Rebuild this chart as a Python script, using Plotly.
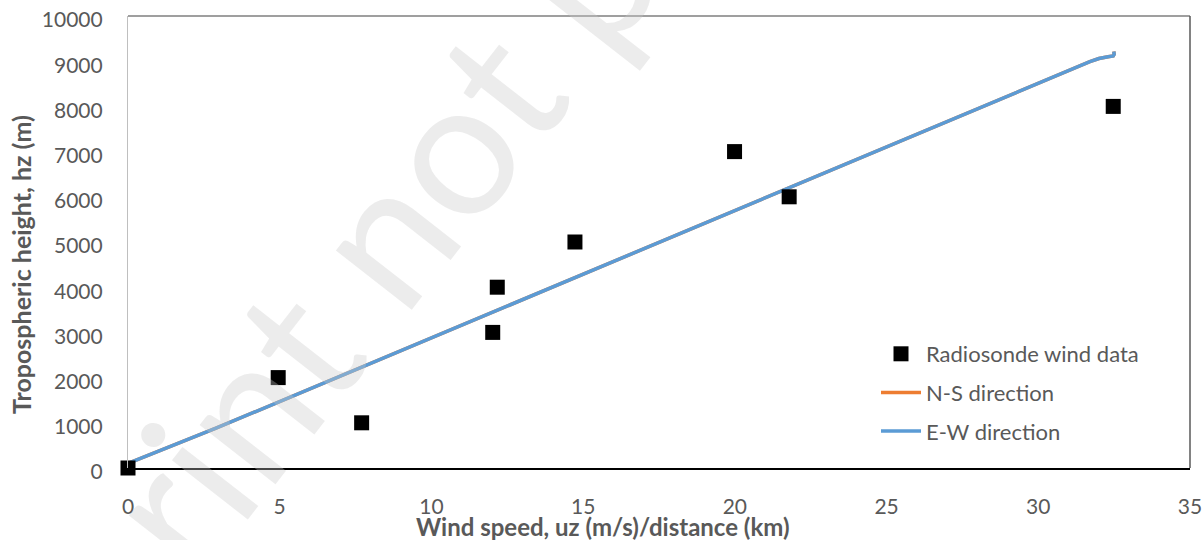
import plotly.graph_objects as go

# ---- data ----
radio_x = [0, 4.95, 7.70, 12.02, 12.17, 14.73, 19.99, 21.79, 32.47]
radio_y = [0, 2000, 1000, 3000, 4000, 5000, 7000, 6000, 8000]

ns_x = [0, 2.9, 31.7, 32.0, 32.3, 32.47, 32.5, 32.49]
ns_y = [100, 880, 8990, 9060, 9100, 9117, 9150, 9215]

ew_x = [0, 2.9, 31.7, 32.0, 32.3, 32.47, 32.5, 32.49]
ew_y = [100, 880, 8990, 9060, 9100, 9117, 9150, 9215]

x_ticks = [0, 5, 10, 15, 20, 25, 30, 35]
x_tick_labels = ["0", "5", "10", "15", "20", "25", "30", "35"]
y_ticks = [0, 1000, 2000, 3000, 4000, 5000, 6000, 7000, 8000, 9000, 10000]
y_tick_labels = ["0", "1000", "2000", "3000", "4000", "5000", "6000", "7000",
                 "8000", "9000", "10000"]

x_title = "Wind speed, uz (m/s)/distance (km)"
y_title = "Tropospheric height, hz (m)"
watermark = "Preprint not peer reviewed"

W, H = 1203, 540
ML, MR, MT, MB = 128, 13, 16, 72
PW, PH = W - ML - MR, H - MT - MB

def px2paper(px, py):
    return (px - ML) / PW, (H - MB - py) / PH

FONT = "Lato"
GREY = "#595959"

fig = go.Figure()
fig.add_trace(go.Scatter(x=ns_x, y=ns_y, mode="lines", name="N-S direction",
                         line=dict(color="#ED7D31", width=3.5), legendrank=2,
                         legendgroup="b"))
fig.add_trace(go.Scatter(x=ew_x, y=ew_y, mode="lines", name="E-W direction",
                         line=dict(color="#5B9BD5", width=3.5), legendrank=3,
                         legendgroup="c"))
fig.add_trace(go.Scatter(x=radio_x, y=radio_y, mode="markers", name="Radiosonde wind data",
                         marker=dict(symbol="square", size=15, color="black"),
                         cliponaxis=False, legendrank=1, legendgroup="a"))

lx, ly = px2paper(876, 333)
wx, wy = px2paper(588, -36)
tx, ty = px2paper(603, 526)
yx, yy = px2paper(21, 265)

fig.update_layout(
    width=W, height=H,
    margin=dict(l=ML, r=MR, t=MT, b=MB, pad=0, autoexpand=False),
    paper_bgcolor="white", plot_bgcolor="white",
    font=dict(family=FONT, size=21, color=GREY),
    showlegend=True,
    legend=dict(x=lx, y=ly, xanchor="left", yanchor="top",
                font=dict(family=FONT, size=22, color=GREY),
                bgcolor="rgba(0,0,0,0)", traceorder="grouped", tracegroupgap=7,
                itemwidth=40),
    xaxis=dict(range=[0, 35], tickvals=x_ticks, ticktext=x_tick_labels,
               showgrid=False, zeroline=False, automargin=False,
               showline=True, linecolor="black", linewidth=1.5, ticks="",
               tickfont=dict(family=FONT, size=21, color=GREY),
               ticklabelstandoff=19),
    yaxis=dict(range=[0, 10000], tickvals=y_ticks, ticktext=y_tick_labels,
               showgrid=False, zeroline=False, automargin=False,
               showline=True, linecolor="#BFBFBF", linewidth=1.2, ticks="",
               tickfont=dict(family=FONT, size=21, color=GREY),
               ticklabelstandoff=20, ticklabelshift=4),
    shapes=[
        dict(type="line", xref="paper", yref="paper", x0=0, x1=1, y0=1, y1=1,
             line=dict(color="#7F7F7F", width=1.5)),
        dict(type="line", xref="paper", yref="paper", x0=1, x1=1, y0=0, y1=1,
             line=dict(color="#595959", width=1.5)),
    ],
    annotations=[
        dict(text=x_title, xref="paper", yref="paper", x=tx, y=ty,
             xanchor="center", yanchor="middle", showarrow=False,
             font=dict(family=FONT, size=24, color=GREY, weight="bold")),
        dict(text=y_title, xref="paper", yref="paper", x=yx, y=yy, textangle=-90,
             xanchor="center", yanchor="middle", showarrow=False,
             font=dict(family=FONT, size=25, color=GREY, weight="bold")),
        dict(text=watermark, xref="paper", yref="paper", x=wx, y=wy, textangle=-52,
             xanchor="center", yanchor="middle", showarrow=False,
             font=dict(family=FONT, size=190, color="rgba(200,200,200,0.35)")),
    ],
)

fig.write_html("out.html")
